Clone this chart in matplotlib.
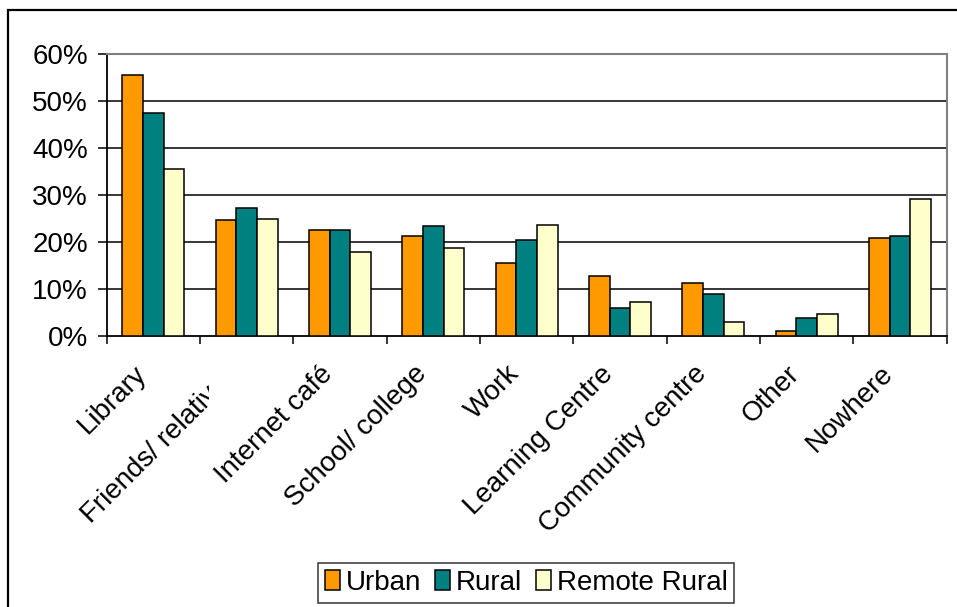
import numpy as np
import matplotlib
matplotlib.use("Agg")
import matplotlib.pyplot as plt
from matplotlib.patches import Rectangle
from matplotlib.transforms import Bbox, TransformedBbox, ScaledTranslation

# ---------------------------------------------------------------------
# Data: where people go online, by area type (share of respondents)
# ---------------------------------------------------------------------
categories = ["Library", "Friends/ relatives", "Internet café", "School/ college",
              "Work", "Learning Centre", "Community centre", "Other", "Nowhere"]
urban = [55.6, 24.6, 22.5, 21.2, 15.6, 12.7, 11.3, 1.1, 20.8]
rural = [47.5, 27.2, 22.5, 23.3, 20.4, 5.9, 8.9, 3.8, 21.2]
remote_rural = [35.6, 25.0, 17.8, 18.7, 23.7, 7.2, 2.9, 4.6, 29.2]
series_names = ["Urban", "Rural", "Remote Rural"]
series_colors = ["#FF9900", "#008080", "#FFFFCC"]
y_ticks = [0, 10, 20, 30, 40, 50, 60]

plt.rcParams["font.family"] = ["Liberation Sans", "DejaVu Sans"]
FS = 20

fig = plt.figure(figsize=(9.57, 6.07), dpi=100)
ax = fig.add_axes([106.7 / 957, 1 - 336 / 607, 840 / 957, 282 / 607])

x = np.arange(len(categories))
w = 2 / 9
for i, (vals, name, col) in enumerate(zip([urban, rural, remote_rural],
                                          series_names, series_colors)):
    ax.bar(x + (i - 1) * w, vals, width=w, color=col, edgecolor="black",
           linewidth=1.1, label=name, zorder=3)

ax.set_xlim(-0.5, len(categories) - 0.5)
ax.set_ylim(0, 60)

# horizontal gridlines, plot-area border in grey
for v in y_ticks[1:-1]:
    ax.axhline(v, color="black", linewidth=1.1, zorder=1)
ax.spines["top"].set_color("#808080")
ax.spines["right"].set_color("#808080")
ax.spines["top"].set_linewidth(1.5)
ax.spines["right"].set_linewidth(1.5)
ax.spines["left"].set_linewidth(1.3)
ax.spines["bottom"].set_linewidth(1.3)

ax.set_yticks(y_ticks)
ax.set_yticklabels([f"{v}%" for v in y_ticks], fontsize=FS)
ax.tick_params(axis="y", direction="out", length=6.5, width=1.1, pad=7)

# tick marks between categories, labels at category centres
ax.set_xticks(np.arange(len(categories) + 1) - 0.5, minor=True)
ax.tick_params(axis="x", which="minor", direction="out", length=6, width=1.1)
ax.set_xticks(x)
ax.set_xticklabels(categories, fontsize=FS, rotation=45, ha="right",
                   va="center", rotation_mode="anchor")
ax.tick_params(axis="x", which="major", length=0, pad=0)

shift = ScaledTranslation(-0.11, -0.34, fig.dpi_scale_trans)
for lab in ax.get_xticklabels():
    lab.set_transform(lab.get_transform() + shift)

# the second label is cut off at the right
cut = TransformedBbox(Bbox([[0, 0], [209 / 957, 1]]), fig.transFigure)
friends = ax.get_xticklabels()[1]
friends.set_clip_box(cut)
friends.set_clip_on(True)

leg = ax.legend(loc="center", bbox_to_anchor=(526 / 957, 24 / 607),
                bbox_transform=fig.transFigure, ncol=3, fontsize=FS,
                frameon=True, fancybox=False, shadow=False,
                handlelength=0.55, handleheight=0.75, handletextpad=0.2,
                columnspacing=0.5, borderpad=0.25, borderaxespad=0)
leg.get_frame().set_edgecolor("black")
leg.get_frame().set_linewidth(1.1)

# outer chart frame (runs past the right and bottom edges)
fig.patches.append(Rectangle((8 / 957, -0.05), 1.1, 1 - 10 / 607 + 0.05,
                             transform=fig.transFigure, fill=False,
                             edgecolor="black", linewidth=1.6, clip_on=False))

fig.savefig("out.png", dpi=100)
